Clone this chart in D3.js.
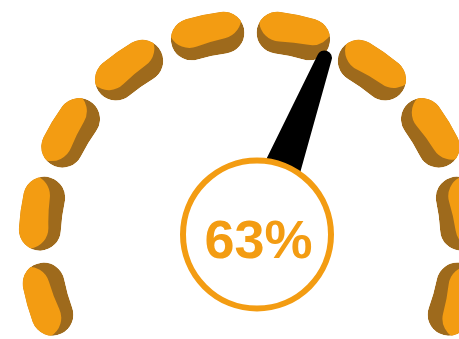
<!DOCTYPE html>
<html>
<head>
<meta charset="utf-8">
<script src="https://cdn.jsdelivr.net/npm/d3@7/dist/d3.min.js"></script>
<style>
  body { margin: 0; background: #fff; }
</style>
</head>
<body>
<svg id="gauge" width="459" height="339"></svg>
<script>
// Data
const gaugeValue = [63];
const gaugeDomain = [0, 100];
const valueLabels = ["63%"];
const segmentCount = 12;

function load_gauge(svg_name) {

    // General Variables
    let chart = d3.select(svg_name);
    let orange = "#F39C12";
    let dark = "#9E6A1C";
    let rad = function (d) { return d * Math.PI / 180; };

    // ring centre and dial centre
    let cx = 250.5, cy = 242;
    let px = 257, py = 234.5;

    // segment angle scale (degrees, 0 = up)
    let seg = d3.scaleBand()
            .domain(d3.range(segmentCount))
            .range([-141, 141])
            .paddingInner(0.14)
            .paddingOuter(0.07);

    let arc = d3.arc()
            .innerRadius(190)
            .outerRadius(232)
            .cornerRadius(21)
            .startAngle(function (d) { return rad(seg(d)); })
            .endAngle(function (d) { return rad(seg(d) + seg.bandwidth()); });

    // needle angle scale
    let needle = d3.scaleLinear()
            .domain(gaugeDomain)
            .range([-92.5, 87.5]);

    // clip paths, one per segment
    chart.append("defs").selectAll("clipPath")
            .data(seg.domain())
            .enter()
            .append("clipPath")
            .attr("id", function (d) { return "clip" + d; })
            .append("path")
            .attr("d", arc);

    let ring = chart.append("g")
            .attr("transform", "translate(" + cx + "," + cy + ")");

    let segments = ring.selectAll("g.seg")
            .data(seg.domain())
            .enter()
            .append("g")
            .attr("class", "seg")
            .attr("clip-path", function (d) { return "url(#clip" + d + ")"; });

    // shadow part
    segments.append("path")
            .attr("d", arc)
            .attr("fill", dark);

    // lit part, shifted outwards and tilted a little
    segments.append("path")
            .attr("d", arc)
            .attr("fill", orange)
            .attr("transform", function (d) {
                let a = rad(seg(d) + seg.bandwidth() / 2);
                let mx = 211 * Math.sin(a), my = -211 * Math.cos(a);
                let dx = 14 * Math.sin(a), dy = -14 * Math.cos(a);
                return "translate(" + dx + "," + dy + ") rotate(-5," + mx + "," + my + ")";
            });

    // NEEDLE
    chart.append("g")
            .attr("transform", "translate(" + px + "," + py + ")")
            .selectAll("path")
            .data(gaugeValue)
            .enter()
            .append("path")
            .attr("d", "M -25 0 L -7.5 -189 A 7.5 7.5 0 0 1 7.5 -189 L 25 0 Z")
            .attr("fill", "#000")
            .attr("transform", function (d) { return "rotate(" + needle(d) + ")"; });

    // dial circle
    chart.append("circle")
            .attr("cx", px)
            .attr("cy", py)
            .attr("r", 74)
            .attr("fill", "#fff")
            .attr("stroke", orange)
            .attr("stroke-width", 6);

    // value label
    chart.selectAll("text.value")
            .data(valueLabels)
            .enter()
            .append("text")
            .attr("class", "value")
            .text(function (d) { return d; })
            .attr("x", px + 1.5)
            .attr("y", 258)
            .attr("text-anchor", "middle")
            .attr("font-family", "'Liberation Sans', Arial, sans-serif")
            .attr("font-weight", "bold")
            .attr("font-size", "54px")
            .attr("fill", orange);

    return { chart: chart, seg_scale: seg, needle_scale: needle };
}

load_gauge("#gauge");
</script>
</body>
</html>
